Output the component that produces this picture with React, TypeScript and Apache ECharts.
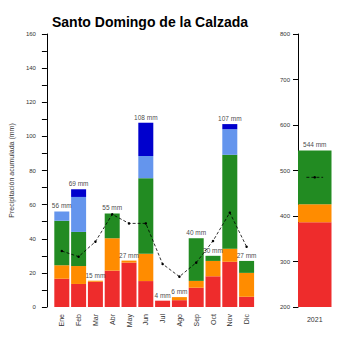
import React, { useEffect, useRef } from "react";
import * as echarts from "echarts";

const months = ["Ene", "Feb", "Mar", "Abr", "May", "Jun", "Jul", "Ago", "Sep", "Oct", "Nov", "Dic"];
const redVals = [16.5, 13.5, 14.8, 21.3, 26, 15.2, 3.7, 4, 11.3, 18, 26.5, 6];
const orangeVals = [8, 10.5, 0.6, 19, 1.2, 16, 0, 1.8, 4, 9, 7.7, 14];
const greenVals = [26, 20, 0, 14.5, 0, 44.3, 0, 0, 25, 3, 55, 7];
const lightBlueVals = [5.5, 20.5, 0, 0, 0, 13, 0, 0, 0, 0, 15, 0];
const blueVals = [0, 4.5, 0, 0, 0, 19.5, 0, 0, 0, 0, 3, 0];
const normalVals = [32.8, 29.5, 38.3, 54.3, 49, 49, 25.2, 17.8, 26, 38.7, 55.3, 35.3];

const yearCat = ["2021"];
const yearRed = [386];
const yearOrange = [40];
const yearGreen = [118];
const yearNormal = 485;
const yearTotalLabel = 544;

const leftTicks = { min: 0, max: 160, interval: 20 };
const rightTicks = { min: 200, max: 800, interval: 100 };

const COLORS = {
  red: "#EE2C2C",
  orange: "#FF8C00",
  green: "#228B22",
  lightBlue: "#6495ED",
  blue: "#0000CD",
};

const FONT = "Liberation Sans, Arial, sans-serif";
const NARROW = "Liberation Sans Narrow, Liberation Sans, sans-serif";

export default function App() {
  const ref = useRef<HTMLDivElement>(null);
  useEffect(() => {
    if (!ref.current) return;
    const chart = echarts.init(ref.current, null, { renderer: "svg" });
    const totals = months.map((_, i) => redVals[i] + orangeVals[i] + greenVals[i] + lightBlueVals[i] + blueVals[i]);
    const barCommon = (name: string, data: number[], color: string) => ({
      name,
      type: "bar",
      stack: "m",
      xAxisIndex: 0,
      yAxisIndex: 0,
      barWidth: 15,
      data,
      itemStyle: { color },
    });
    const yearBar = (name: string, data: number[], color: string) => ({
      name,
      type: "bar",
      stack: "y",
      xAxisIndex: 1,
      yAxisIndex: 1,
      barWidth: "100%",
      data,
      itemStyle: { color },
    });
    const totalLabel = {
      show: true,
      position: "top",
      distance: 2,
      fontSize: 6.5,
      fontFamily: FONT,
      color: "#111",
    };
    chart.setOption({
      animation: false,
      backgroundColor: "#fff",
      title: {
        text: "Santo Domingo de la Calzada",
        left: 47,
        top: 10,
        textStyle: { fontFamily: FONT, fontSize: 14, fontWeight: "bold", color: "#000" },
      },
      grid: [
        { left: 40.5, width: 214.5, top: 34, bottom: 43 },
        { left: 298, width: 33.5, top: 34, bottom: 43 },
      ],
      xAxis: [
        {
          type: "category",
          gridIndex: 0,
          data: months,
          axisLine: { show: false },
          axisTick: { show: false },
          axisLabel: { rotate: 90, margin: 7, fontSize: 7, fontFamily: FONT, color: "#333" },
        },
        {
          type: "category",
          gridIndex: 1,
          data: yearCat,
          axisLine: { show: false },
          axisTick: { show: false },
          axisLabel: { margin: 9, fontSize: 7, fontFamily: FONT, color: "#333" },
        },
        {
          type: "value",
          gridIndex: 1,
          min: 0,
          max: 1,
          show: false,
        },
      ],
      yAxis: [
        {
          type: "value",
          gridIndex: 0,
          min: leftTicks.min,
          max: leftTicks.max,
          interval: leftTicks.interval,
          offset: 6.5,
          name: "Precipitación acumulada (mm)",
          nameLocation: "middle",
          nameGap: 30,
          nameTextStyle: { fontFamily: FONT, fontSize: 7, color: "#333" },
          axisLine: { show: true, lineStyle: { color: "#000", width: 1 } },
          axisTick: { show: true, length: 5, lineStyle: { color: "#000" } },
          minorTick: { show: true, splitNumber: 2, length: 5, lineStyle: { color: "#000" } },
          splitLine: { show: false },
          axisLabel: { margin: 11, fontSize: 6, fontFamily: NARROW, color: "#333" },
        },
        {
          type: "value",
          gridIndex: 1,
          min: rightTicks.min,
          max: rightTicks.max,
          interval: rightTicks.interval,
          axisLine: { show: true, lineStyle: { color: "#000", width: 1 } },
          axisTick: { show: true, length: 5, lineStyle: { color: "#000" } },
          splitLine: { show: false },
          axisLabel: { margin: 8, fontSize: 6, fontFamily: NARROW, color: "#333" },
        },
      ],
      series: [
        barCommon("red", redVals, COLORS.red),
        barCommon("orange", orangeVals, COLORS.orange),
        barCommon("green", greenVals, COLORS.green),
        barCommon("lightblue", lightBlueVals, COLORS.lightBlue),
        barCommon("blue", blueVals, COLORS.blue),
        {
          name: "totals",
          type: "scatter",
          xAxisIndex: 0,
          yAxisIndex: 0,
          symbolSize: 0,
          itemStyle: { color: "#111" },
          data: totals,
          label: { ...totalLabel, formatter: (p: any) => Math.round(p.value) + " mm" },
          labelLayout: { hideOverlap: false },
          z: 5,
        },
        {
          name: "normal",
          type: "line",
          xAxisIndex: 0,
          yAxisIndex: 0,
          data: normalVals,
          symbol: "circle",
          symbolSize: 2.5,
          itemStyle: { color: "#000" },
          lineStyle: { color: "#000", width: 0.8, type: [3, 2] },
          z: 6,
        },
        yearBar("yred", yearRed, COLORS.red),
        yearBar("yorange", yearOrange, COLORS.orange),
        yearBar("ygreen", yearGreen, COLORS.green),
        {
          name: "ytotal",
          type: "scatter",
          xAxisIndex: 1,
          yAxisIndex: 1,
          symbolSize: 0,
          itemStyle: { color: "#111" },
          data: [yearTotalLabel],
          label: { ...totalLabel, formatter: (p: any) => p.value + " mm" },
          z: 5,
        },
        {
          name: "ynormal",
          type: "line",
          xAxisIndex: 2,
          yAxisIndex: 1,
          data: [[0.25, yearNormal], [0.5, yearNormal], [0.75, yearNormal]],
          symbol: (_v: any, p: any) => (p.dataIndex === 1 ? "circle" : "none"),
          symbolSize: 2.5,
          itemStyle: { color: "#000" },
          lineStyle: { color: "#000", width: 0.8, type: [3, 2] },
          z: 6,
        },
      ],
    });
    return () => chart.dispose();
  }, []);
  return <div ref={ref} style={{ width: 350, height: 350, position: "absolute", left: 0, top: 0 }} />;
}
